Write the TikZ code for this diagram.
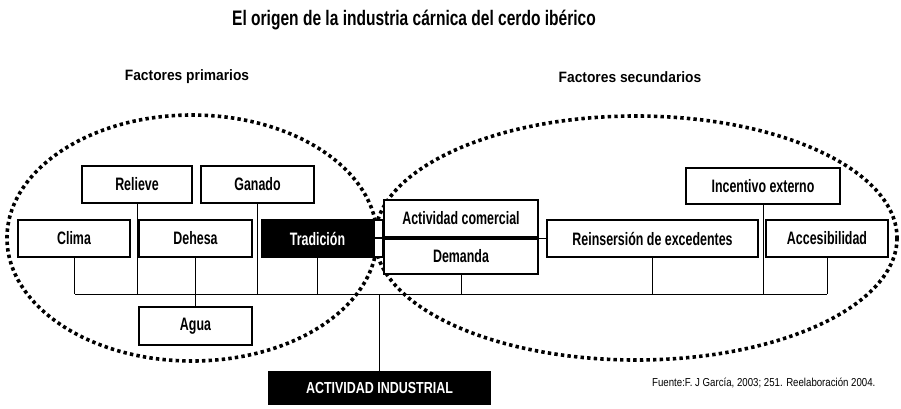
\documentclass[tikz,border=0pt]{standalone}
\usepackage{fontspec}
\newfontfamily\cond[FakeStretch=0.69]{Liberation Sans}
\newfontfamily\condt[FakeStretch=0.74]{Liberation Sans}
\newfontfamily\condai[FakeStretch=0.78]{Liberation Sans}
\newfontfamily\condw[FakeStretch=0.92]{Liberation Sans}
\newfontfamily\condsrc[FakeStretch=0.84]{Liberation Sans}
\begin{document}
\begin{tikzpicture}[x=1pt,y=-1pt,
  box/.style={draw=black, line width=1.4pt, fill=white, inner sep=0pt,
    font=\cond\bfseries\fontsize{18}{18}\selectfont, text=black},
  darkbox/.style={draw=black, line width=1.4pt, fill=black, inner sep=0pt,
    font=\cond\bfseries\fontsize{18}{18}\selectfont, text=white},
  wire/.style={draw=black, line width=0.9pt},
  ring/.style={draw=black, line width=3.6pt, dash pattern=on 3.4pt off 3.2pt},
  heading/.style={font=\condw\bfseries\fontsize{15}{15}\selectfont, inner sep=0pt}]
\useasboundingbox (0,0) rectangle (901,408);
\fill[white] (0,0) rectangle (901,408);

% title and headings
\node[font=\condt\bfseries\fontsize{21}{21}\selectfont, inner sep=0pt] (title) at (414,20) {El origen de la industria cárnica del cerdo ibérico};
\node[heading] (hprim) at (187,77) {Factores primarios};
\node[heading] (hsec) at (630,77) {Factores secundarios};

% dotted ellipses
\draw[ring] (192,238) ellipse [x radius=185, y radius=123];
\draw[ring] (636,238) ellipse [x radius=261, y radius=122];

% bus
\coordinate (busL) at (75,294);
\coordinate (busR) at (827,294);
\draw[wire] (busL) -- (busR);

% primary factors
\node[box, minimum width=110pt, minimum height=37pt] (relieve) at (137,184.5) {Relieve};
\node[box, minimum width=113pt, minimum height=37pt] (ganado) at (257.5,184.5) {Ganado};
\node[box, minimum width=112pt, minimum height=37pt] (clima) at (74,238.5) {Clima};
\node[box, minimum width=113pt, minimum height=37pt] (dehesa) at (195.5,238.5) {Dehesa};
\node[darkbox, minimum width=111pt, minimum height=37pt] (tradicion) at (317.5,238.5) {Tradición};
\node[box, minimum width=113pt, minimum height=38pt] (agua) at (195.5,326) {Agua};

% small joint between the groups
\draw[black, line width=1.2pt, fill=white] (374,220) rectangle (383,257);
\draw[black, line width=1.2pt] (374,238) -- (383,238);

% secondary factors
\node[box, minimum width=154pt, minimum height=37pt] (comercial) at (461,218.5) {Actividad comercial};
\node[box, minimum width=154pt, minimum height=35pt] (demanda) at (461,256.5) {Demanda};
\node[box, minimum width=211pt, minimum height=37pt] (reins) at (652.5,238.5) {Reinsersión de excedentes};
\node[box, minimum width=154pt, minimum height=36pt] (incentivo) at (763,186) {Incentivo externo};
\node[box, minimum width=122pt, minimum height=37pt] (acces) at (827,238.5) {Accesibilidad};

% result
\node[darkbox, minimum width=221pt, minimum height=33pt, font=\condai\bfseries\fontsize{16}{16}\selectfont] (ai) at (379.5,388) {ACTIVIDAD INDUSTRIAL};

% connectors
\draw[wire] (clima.south) -- (clima.south |- busL);
\draw[wire] (relieve.south) -- (relieve.south |- busL);
\draw[wire] (dehesa.south) -- (agua.north);
\draw[wire] (ganado.south) -- (ganado.south |- busL);
\draw[wire] (tradicion.south) -- (tradicion.south |- busL);
\draw[wire] (demanda.south) -- (demanda.south |- busL);
\draw[wire] (reins.south) -- (reins.south |- busL);
\draw[wire] (incentivo.south) -- (incentivo.south |- busL);
\draw[wire] (acces.south) -- (acces.south |- busL);
\draw[wire] (reins.west) -- (reins.west -| comercial.east);
\draw[wire] (ai.north) -- (ai.north |- busL);

% source
\node[font=\condsrc\fontsize{11.5}{11.5}\selectfont, inner sep=0pt, anchor=west] (src) at (652,383) {Fuente:F. J García, 2003; 251. Reelaboración 2004.};
\end{tikzpicture}
\end{document}
